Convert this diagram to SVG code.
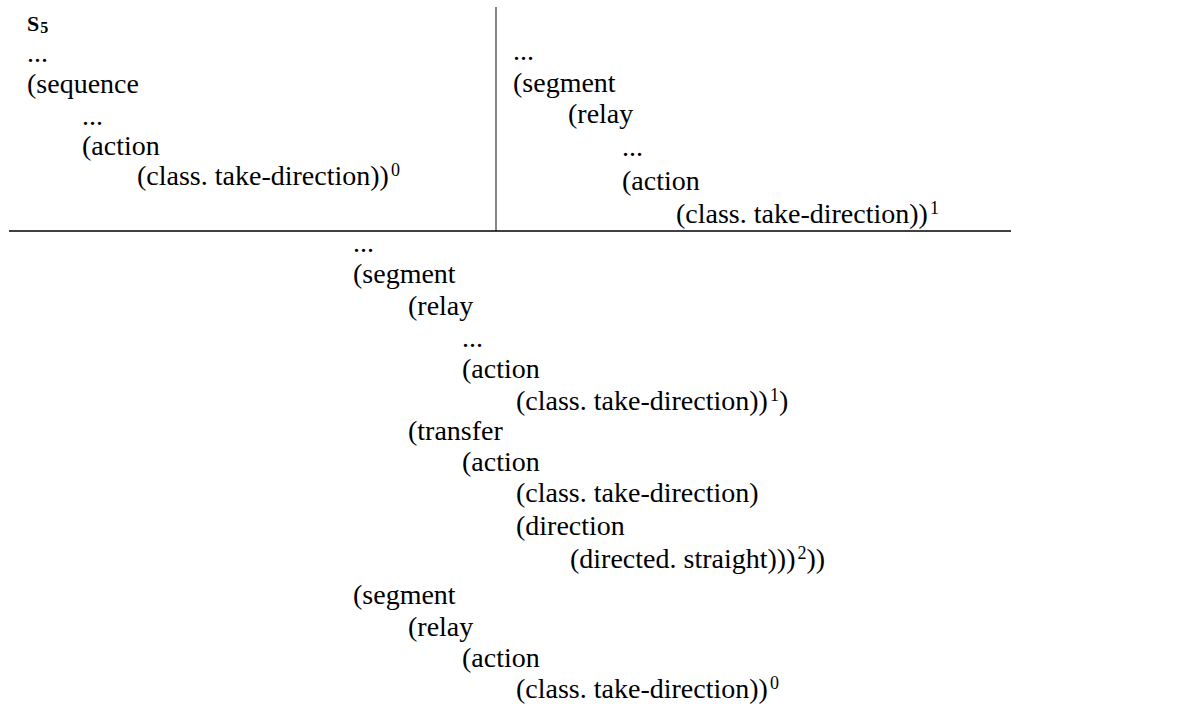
<svg xmlns="http://www.w3.org/2000/svg" width="1183" height="709" viewBox="0 0 1183 709">
  <style>
    .t { font-family: "Liberation Serif", "Times New Roman", serif; font-size: 28px; fill: #000; }
    .sup { font-size: 18px; }
    .title { font-family: "Liberation Serif", "Times New Roman", serif; font-weight: bold; fill: #000; }
    .rule { stroke: #000; stroke-width: 1.3; fill: none; }
    .vrule { stroke: #444; stroke-width: 1.3; fill: none; }
  </style>
  <rect x="0" y="0" width="1183" height="709" fill="#fff"/>

  <g id="rules">
    <line class="vrule" x1="496" y1="7" x2="496" y2="231"/>
    <line class="rule" x1="9" y1="231" x2="1011" y2="231"/>
  </g>

  <g id="cell-left">
    <text class="title" x="27" y="31"><tspan font-size="22">S</tspan><tspan font-size="16" dx="1" dy="2">5</tspan></text>
    <text class="t" x="27" y="62">...</text>
    <text class="t" x="27" y="93">(sequence</text>
    <text class="t" x="82" y="125">...</text>
    <text class="t" x="82" y="155">(action</text>
    <text class="t" x="137" y="185">(class. take-direction))<tspan class="sup" dx="2" dy="-9">0</tspan></text>
  </g>

  <g id="cell-right">
    <text class="t" x="513" y="60">...</text>
    <text class="t" x="513" y="92">(segment</text>
    <text class="t" x="568" y="123">(relay</text>
    <text class="t" x="622" y="156">...</text>
    <text class="t" x="622" y="190">(action</text>
    <text class="t" x="676" y="223">(class. take-direction))<tspan class="sup" dx="2" dy="-9">1</tspan></text>
  </g>

  <g id="cell-bottom">
    <text class="t" x="353" y="252">...</text>
    <text class="t" x="353" y="283">(segment</text>
    <text class="t" x="408" y="315">(relay</text>
    <text class="t" x="462" y="347">...</text>
    <text class="t" x="462" y="378">(action</text>
    <text class="t" x="516" y="410">(class. take-direction))<tspan class="sup" dx="2" dy="-9">1</tspan><tspan dy="9">)</tspan></text>
    <text class="t" x="408" y="440">(transfer</text>
    <text class="t" x="462" y="471">(action</text>
    <text class="t" x="516" y="502">(class. take-direction)</text>
    <text class="t" x="516" y="535">(direction</text>
    <text class="t" x="570" y="568">(directed. straight)))<tspan class="sup" dx="2" dy="-9">2</tspan><tspan dy="9">))</tspan></text>
    <text class="t" x="353" y="604">(segment</text>
    <text class="t" x="408" y="636">(relay</text>
    <text class="t" x="462" y="667">(action</text>
    <text class="t" x="516" y="698">(class. take-direction))<tspan class="sup" dx="2" dy="-9">0</tspan></text>
  </g>
</svg>
